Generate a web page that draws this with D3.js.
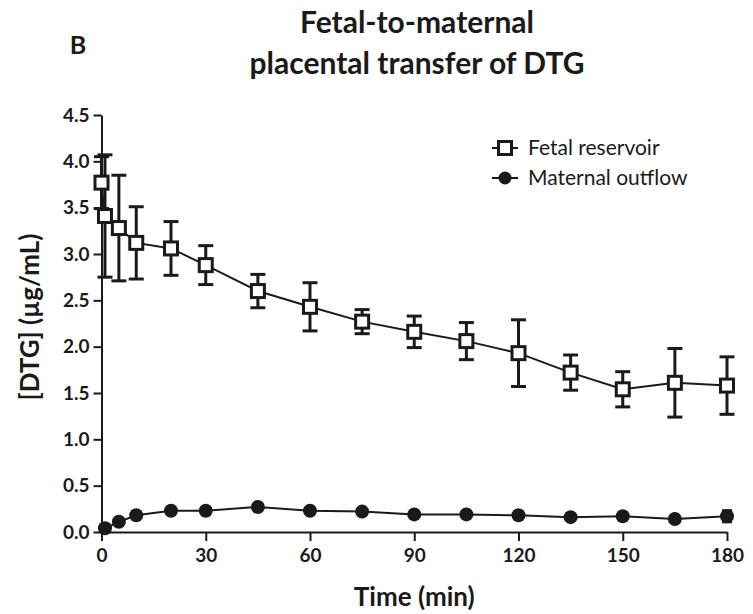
<!DOCTYPE html>
<html>
<head>
<meta charset="utf-8">
<script src="https://cdn.jsdelivr.net/npm/d3@7"></script>
<style>
  body { margin: 0; background: #fff; }
  text { font-family: Lato, "Open Sans", sans-serif; fill: #1a1a1a; }
</style>
</head>
<body>
<div id="chart"></div>
<script>
// Fetal reservoir (mean, SD) and maternal outflow concentrations, µg/mL
const fetalTime = [0, 1, 5, 10, 20, 30, 45, 60, 75, 90, 105, 120, 135, 150, 165, 180];
const fetalMean = [3.77, 3.41, 3.28, 3.12, 3.06, 2.88, 2.60, 2.43, 2.27, 2.16, 2.06, 1.93, 1.72, 1.54, 1.61, 1.58];
const fetalSd   = [0.28, 0.66, 0.57, 0.39, 0.29, 0.21, 0.18, 0.26, 0.13, 0.17, 0.20, 0.36, 0.19, 0.19, 0.37, 0.31];

const maternalTime = [1, 5, 10, 20, 30, 45, 60, 75, 90, 105, 120, 135, 150, 165, 180];
const maternalMean = [0.04, 0.11, 0.18, 0.23, 0.23, 0.27, 0.23, 0.22, 0.19, 0.19, 0.18, 0.16, 0.17, 0.14, 0.17];
const maternalSd   = [0.01, 0.01, 0.02, 0.02, 0.02, 0.02, 0.02, 0.02, 0.02, 0.02, 0.02, 0.02, 0.02, 0.02, 0.06];

const xTicks = [0, 30, 60, 90, 120, 150, 180];
const yTicks = [0, 0.5, 1, 1.5, 2, 2.5, 3, 3.5, 4, 4.5];
const seriesNames = ["Fetal reservoir", "Maternal outflow"];

const width = 753, height = 614;
const margin = {top: 115, right: 26, bottom: 82, left: 101.5};

const svg = d3.select("#chart").append("svg")
  .attr("width", width)
  .attr("height", height);

const x = d3.scaleLinear().domain([0, 180]).range([margin.left, width - margin.right]);
const y = d3.scaleLinear().domain([0, 4.5]).range([height - margin.bottom, margin.top]);

const fetal = fetalTime.map((t, i) => ({t, m: fetalMean[i], sd: fetalSd[i]}));
const maternal = maternalTime.map((t, i) => ({t, m: maternalMean[i], sd: maternalSd[i]}));

// Axes
const xAxis = svg.append("g")
  .attr("transform", `translate(0,${y(0)})`)
  .call(d3.axisBottom(x).tickValues(xTicks).tickSize(9).tickPadding(8).tickSizeOuter(0));
const yAxis = svg.append("g")
  .attr("transform", `translate(${x(0)},0)`)
  .call(d3.axisLeft(y).tickValues(yTicks).tickFormat(d3.format(".1f")).tickSize(8).tickPadding(4).tickSizeOuter(0));

[xAxis, yAxis].forEach(g => {
  g.select(".domain").attr("stroke", "#1a1a1a").attr("stroke-width", 2);
  g.selectAll(".tick line").attr("stroke", "#1a1a1a").attr("stroke-width", 2);
  g.selectAll(".tick text")
    .attr("font-family", "Lato, sans-serif")
    .attr("font-weight", "bold")
    .attr("font-size", 19)
    .attr("fill", "#1a1a1a");
});

// Axis titles
svg.append("text")
  .attr("x", x(90))
  .attr("y", 606)
  .attr("text-anchor", "middle")
  .attr("font-weight", "bold")
  .attr("font-size", 26)
  .text("Time (min)");

svg.append("text")
  .attr("transform", `translate(39,317) rotate(-90)`)
  .attr("text-anchor", "middle")
  .attr("font-weight", "bold")
  .attr("font-size", 26)
  .text("[DTG] (µg/mL)");

// Title and panel letter
svg.append("text")
  .attr("x", 78).attr("y", 54)
  .attr("text-anchor", "middle")
  .attr("font-weight", "bold")
  .attr("font-size", 25)
  .text("B");

svg.append("text")
  .attr("x", 417).attr("y", 33)
  .attr("text-anchor", "middle")
  .attr("font-weight", "bold")
  .attr("font-size", 30)
  .text("Fetal-to-maternal");

svg.append("text")
  .attr("x", 417).attr("y", 74)
  .attr("text-anchor", "middle")
  .attr("font-weight", "bold")
  .attr("font-size", 30)
  .text("placental transfer of DTG");

const line = d3.line().x(d => x(d.t)).y(d => y(d.m));

function drawErrors(data, capW) {
  const g = svg.append("g").attr("stroke", "#1a1a1a").attr("stroke-width", 3);
  data.forEach(d => {
    g.append("line")
      .attr("x1", x(d.t)).attr("x2", x(d.t))
      .attr("y1", y(d.m + d.sd)).attr("y2", y(d.m - d.sd));
    [d.m + d.sd, d.m - d.sd].forEach(v => {
      g.append("line")
        .attr("x1", x(d.t) - capW / 2).attr("x2", x(d.t) + capW / 2)
        .attr("y1", y(v)).attr("y2", y(v));
    });
  });
}

// Fetal reservoir
drawErrors(fetal, 15);
svg.append("path")
  .datum(fetal)
  .attr("fill", "none")
  .attr("stroke", "#1a1a1a")
  .attr("stroke-width", 2)
  .attr("d", line);
svg.append("g").selectAll("rect")
  .data(fetal)
  .join("rect")
  .attr("x", d => x(d.t) - 6.5)
  .attr("y", d => y(d.m) - 6.5)
  .attr("width", 13)
  .attr("height", 13)
  .attr("fill", "#fff")
  .attr("stroke", "#1a1a1a")
  .attr("stroke-width", 3);

// Maternal outflow
drawErrors(maternal.filter(d => d.sd > 0.03), 10);
svg.append("path")
  .datum(maternal)
  .attr("fill", "none")
  .attr("stroke", "#1a1a1a")
  .attr("stroke-width", 2)
  .attr("d", line);
svg.append("g").selectAll("circle")
  .data(maternal)
  .join("circle")
  .attr("cx", d => x(d.t))
  .attr("cy", d => y(d.m))
  .attr("r", 7)
  .attr("fill", "#1a1a1a");

// Legend
const legend = svg.append("g").attr("transform", "translate(505,148)");
seriesNames.forEach((name, i) => {
  const row = legend.append("g").attr("transform", `translate(0,${i * 30})`);
  row.append("line")
    .attr("x1", -13).attr("x2", 13)
    .attr("stroke", "#1a1a1a").attr("stroke-width", 2);
  if (i === 0) {
    row.append("rect")
      .attr("x", -6.5).attr("y", -6.5).attr("width", 13).attr("height", 13)
      .attr("fill", "#fff").attr("stroke", "#1a1a1a").attr("stroke-width", 3);
  } else {
    row.append("circle").attr("r", 6.5).attr("fill", "#1a1a1a");
  }
  row.append("text")
    .attr("x", 23)
    .attr("y", 7)
    .attr("font-size", 21)
    .text(name);
});
</script>
</body>
</html>
